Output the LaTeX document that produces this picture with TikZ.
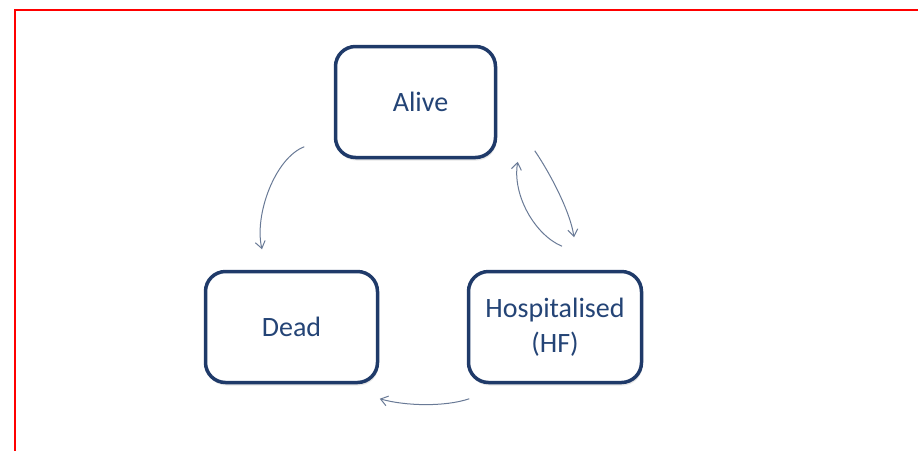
\documentclass[tikz,border=0pt]{standalone}
\usepackage{fontspec}
\setmainfont{Carlito}
\usetikzlibrary{arrows.meta, shadows}
\definecolor{boxblue}{RGB}{31,58,105}
\definecolor{textblue}{RGB}{36,68,118}
\definecolor{arrowgrey}{RGB}{105,122,150}

\begin{document}
\begin{tikzpicture}[x=1pt, y=-1pt, >={Straight Barb[length=7pt,width=10pt]},
    state/.style={draw=boxblue, line width=3.5pt, rounded corners=20pt, fill=white,
        text=textblue, minimum height=111pt, align=center,
        font=\fontsize{28}{35}\selectfont,
        drop shadow={shadow xshift=1pt, shadow yshift=-3pt, opacity=0.2}},
    trans/.style={->, draw=arrowgrey, line width=1pt}]
    \useasboundingbox (0,0) rectangle (918,451);
    \draw[red, line width=2pt] (918,9.5) -- (15.3,9.5) -- (15.3,451);

    \node[state, minimum width=160pt] (alive) at (415.5,102) {\hspace*{5pt}Alive\hspace*{-5pt}};
    \node[state, minimum width=172pt] (dead) at (291.5,327) {Dead};
    \node[state, minimum width=173pt] (hosp) at (555,327) {Hospitalised\\(HF)};

    \draw[trans] ([shift={(-29.5,-12.5)}]alive.south west) .. controls (275,158) and (254,215) .. ([shift={(-29.5,-20.5)}]dead.north);
    \draw[trans] ([shift={(37.5,-8.5)}]alive.south east) .. controls (548,170) and (570,210) .. ([shift={(19,-32.5)}]hosp.north);
    \draw[trans] ([shift={(7,-23.5)}]hosp.north) .. controls (535,235) and (512,195) .. ([shift={(20.5,2.5)}]alive.south east);
    \draw[trans] ([shift={(2.5,14.5)}]hosp.south west) .. controls (445,407) and (405,406) .. ([shift={(0.5,14.5)}]dead.south east);
\end{tikzpicture}
\end{document}
